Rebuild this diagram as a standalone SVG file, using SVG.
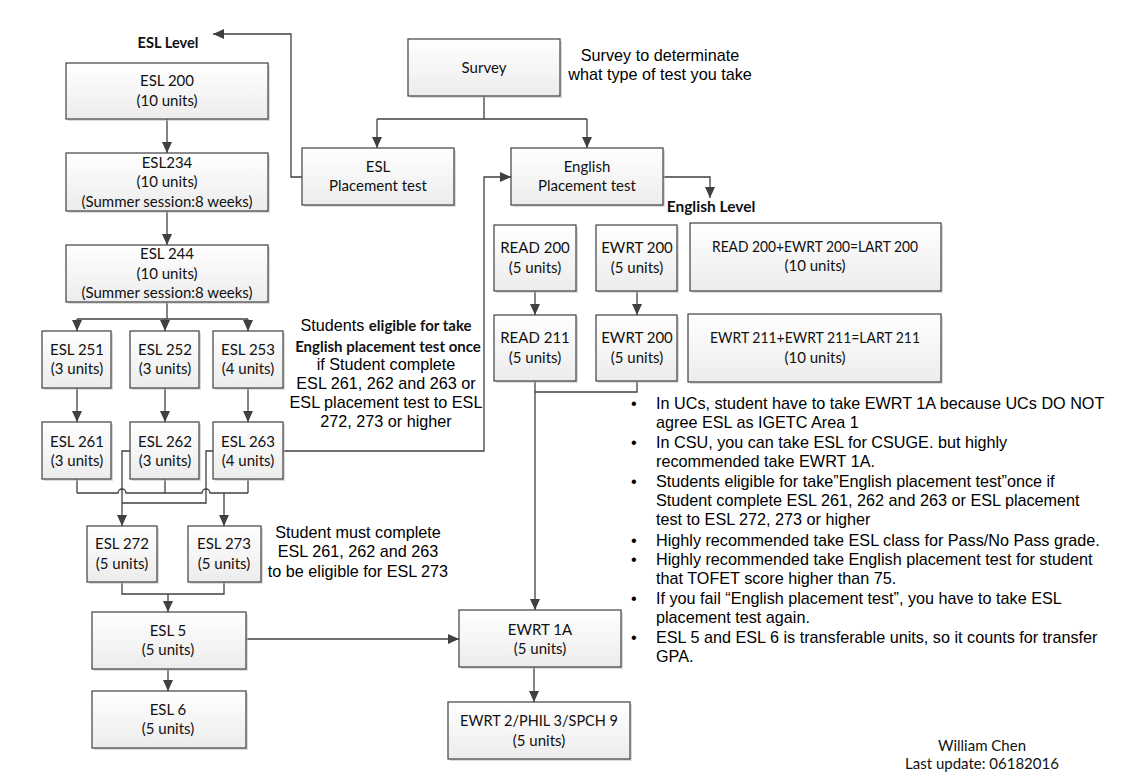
<svg xmlns="http://www.w3.org/2000/svg" width="1125" height="784" viewBox="0 0 1125 784">
<defs>
<linearGradient id="g" x1="0" y1="0" x2="0" y2="1">
<stop offset="0" stop-color="#ffffff"/>
<stop offset="1" stop-color="#ececec"/>
</linearGradient>
<marker id="ar" markerUnits="userSpaceOnUse" markerWidth="11" markerHeight="10" refX="11" refY="5" orient="auto">
<path d="M0,0 L11,5 L0,10 z" fill="#404040"/>
</marker>
<style>
.box{fill:url(#g);stroke:#404040;stroke-width:1.2}
.sh{fill:#bdbdbd;opacity:0.55}
.t{font-family:Lato,"Liberation Sans",sans-serif;font-size:15px;text-anchor:middle;fill:#111}
.b{font-family:Lato,"Liberation Sans",sans-serif;font-size:15px;font-weight:bold;fill:#111}
.a{font-family:"Liberation Sans",Arial,sans-serif;font-size:16.2px;fill:#000}
.am{font-family:"Liberation Sans",Arial,sans-serif;font-size:16.2px;fill:#000;text-anchor:middle}
.c{stroke:#404040;stroke-width:1.3;fill:none}
.e{marker-end:url(#ar)}
</style>
</defs>
<rect width="1125" height="784" fill="#ffffff"/>

<g id="connectors">
<path class="c e" d="M167,119 V153"/>
<path class="c e" d="M167,211 V245"/>
<path class="c" d="M167,302 V319 M77,319 H248"/>
<path class="c e" d="M77,319 V331"/>
<path class="c e" d="M165,319 V331"/>
<path class="c e" d="M248,319 V331"/>
<path class="c e" d="M77,388 V422"/>
<path class="c e" d="M165,388 V422"/>
<path class="c e" d="M248,388 V422"/>
<path class="c" d="M77,479 V493 M165,479 V493 M248,479 V493"/>
<path class="c" d="M77,493 H118 a4,4 0 0 1 8,0 H202 a4,4 0 0 1 8,0 H248"/>
<path class="c e" d="M224,493 V526"/>
<path class="c e" d="M130,451 H122 V526"/>
<path class="c" d="M213,451 H206 V503 H122"/>
<path class="c" d="M122,582 V594 H224 V582"/>
<path class="c e" d="M168,594 V612"/>
<path class="c e" d="M168,669 V691"/>
<path class="c e" d="M246,639 H459"/>
<path class="c e" d="M283,451 H484 V177 H511"/>
<path class="c e" d="M302,177 H291 V34 H213"/>
<path class="c" d="M484,96 V119 M377,119 H587"/>
<path class="c e" d="M377,119 V148"/>
<path class="c e" d="M587,119 V148"/>
<path class="c e" d="M663,177 H710 V198"/>
<path class="c e" d="M535,291 V315"/>
<path class="c e" d="M637,291 V315"/>
<path class="c e" d="M535,381 V610"/>
<path class="c" d="M637,381 V392 H535"/>
<path class="c e" d="M534,667 V702"/>
</g>

<g id="esl-level"><text class="b" x="168" y="48" text-anchor="middle" style="font-size:14.6px">ESL Level</text></g>

<g id="esl200">
<rect class="sh" x="68" y="65" width="202" height="56"/>
<rect class="box" x="66" y="63" width="202" height="56"/>
<text class="t" x="167" y="86">ESL 200</text>
<text class="t" x="167" y="106">(10 units)</text>
</g>
<g id="esl234">
<rect class="sh" x="68" y="155" width="202" height="58"/>
<rect class="box" x="66" y="153" width="202" height="58"/>
<text class="t" x="167" y="168">ESL234</text>
<text class="t" x="167" y="187">(10 units)</text>
<text class="t" x="167" y="207">(Summer session:8 weeks)</text>
</g>
<g id="esl244">
<rect class="sh" x="68" y="247" width="202" height="57"/>
<rect class="box" x="66" y="245" width="202" height="57"/>
<text class="t" x="167" y="259">ESL 244</text>
<text class="t" x="167" y="279">(10 units)</text>
<text class="t" x="167" y="298">(Summer session:8 weeks)</text>
</g>
<g id="esl251">
<rect class="sh" x="44" y="333" width="69" height="57"/>
<rect class="box" x="42" y="331" width="69" height="57"/>
<text class="t" x="77" y="355">ESL 251</text>
<text class="t" x="77" y="374">(3 units)</text>
</g>
<g id="esl252">
<rect class="sh" x="132" y="333" width="69" height="57"/>
<rect class="box" x="130" y="331" width="69" height="57"/>
<text class="t" x="165" y="355">ESL 252</text>
<text class="t" x="165" y="374">(3 units)</text>
</g>
<g id="esl253">
<rect class="sh" x="215" y="333" width="70" height="57"/>
<rect class="box" x="213" y="331" width="70" height="57"/>
<text class="t" x="248" y="355">ESL 253</text>
<text class="t" x="248" y="374">(4 units)</text>
</g>
<g id="esl261">
<rect class="sh" x="44" y="424" width="69" height="57"/>
<rect class="box" x="42" y="422" width="69" height="57"/>
<text class="t" x="77" y="447">ESL 261</text>
<text class="t" x="77" y="466">(3 units)</text>
</g>
<g id="esl262">
<rect class="sh" x="132" y="424" width="69" height="57"/>
<rect class="box" x="130" y="422" width="69" height="57"/>
<text class="t" x="165" y="447">ESL 262</text>
<text class="t" x="165" y="466">(3 units)</text>
</g>
<g id="esl263">
<rect class="sh" x="215" y="424" width="70" height="57"/>
<rect class="box" x="213" y="422" width="70" height="57"/>
<text class="t" x="248" y="447">ESL 263</text>
<text class="t" x="248" y="466">(4 units)</text>
</g>
<g id="esl272">
<rect class="sh" x="89" y="528" width="70" height="56"/>
<rect class="box" x="87" y="526" width="70" height="56"/>
<text class="t" x="122" y="549">ESL 272</text>
<text class="t" x="122" y="569">(5 units)</text>
</g>
<g id="esl273">
<rect class="sh" x="190" y="528" width="73" height="56"/>
<rect class="box" x="188" y="526" width="73" height="56"/>
<text class="t" x="224" y="549">ESL 273</text>
<text class="t" x="224" y="569">(5 units)</text>
</g>
<g id="esl5">
<rect class="sh" x="94" y="614" width="154" height="57"/>
<rect class="box" x="92" y="612" width="154" height="57"/>
<text class="t" x="168" y="636">ESL 5</text>
<text class="t" x="168" y="655">(5 units)</text>
</g>
<g id="esl6">
<rect class="sh" x="94" y="693" width="154" height="57"/>
<rect class="box" x="92" y="691" width="154" height="57"/>
<text class="t" x="168" y="715">ESL 6</text>
<text class="t" x="168" y="734">(5 units)</text>
</g>

<g id="survey">
<rect class="sh" x="410" y="41" width="152" height="57"/>
<rect class="box" x="408" y="39" width="152" height="57"/>
<text class="t" x="484" y="73">Survey</text>
</g>
<g id="survey-note">
<text class="am" x="660" y="61">Survey to determinate</text>
<text class="am" x="660" y="80">what type of test you take</text>
</g>
<g id="esl-placement">
<rect class="sh" x="304" y="150" width="152" height="57"/>
<rect class="box" x="302" y="148" width="152" height="57"/>
<text class="t" x="378" y="172">ESL</text>
<text class="t" x="378" y="191">Placement test</text>
</g>
<g id="english-placement">
<rect class="sh" x="513" y="150" width="152" height="57"/>
<rect class="box" x="511" y="148" width="152" height="57"/>
<text class="t" x="587" y="172">English</text>
<text class="t" x="587" y="191">Placement test</text>
</g>
<g id="english-level"><text class="b" x="711" y="212" text-anchor="middle" style="font-size:15.5px">English Level</text></g>

<g id="read200">
<rect class="sh" x="496" y="227" width="82" height="66"/>
<rect class="box" x="494" y="225" width="82" height="66"/>
<text class="t" x="535" y="253">READ 200</text>
<text class="t" x="535" y="273">(5 units)</text>
</g>
<g id="ewrt200a">
<rect class="sh" x="598" y="227" width="81" height="66"/>
<rect class="box" x="596" y="225" width="81" height="66"/>
<text class="t" x="637" y="253">EWRT 200</text>
<text class="t" x="637" y="273">(5 units)</text>
</g>
<g id="lart200">
<rect class="sh" x="692" y="225" width="251" height="68"/>
<rect class="box" x="690" y="223" width="251" height="68"/>
<text class="t" x="815" y="252" textLength="206" lengthAdjust="spacingAndGlyphs">READ 200+EWRT 200=LART 200</text>
<text class="t" x="815" y="271">(10 units)</text>
</g>
<g id="read211">
<rect class="sh" x="496" y="317" width="82" height="66"/>
<rect class="box" x="494" y="315" width="82" height="66"/>
<text class="t" x="535" y="343">READ 211</text>
<text class="t" x="535" y="363">(5 units)</text>
</g>
<g id="ewrt200b">
<rect class="sh" x="598" y="317" width="81" height="66"/>
<rect class="box" x="596" y="315" width="81" height="66"/>
<text class="t" x="637" y="343">EWRT 200</text>
<text class="t" x="637" y="363">(5 units)</text>
</g>
<g id="lart211">
<rect class="sh" x="690" y="316" width="253" height="68"/>
<rect class="box" x="688" y="314" width="253" height="68"/>
<text class="t" x="815" y="343" textLength="210" lengthAdjust="spacingAndGlyphs">EWRT 211+EWRT 211=LART 211</text>
<text class="t" x="815" y="363">(10 units)</text>
</g>
<g id="ewrt1a">
<rect class="sh" x="461" y="612" width="162" height="57"/>
<rect class="box" x="459" y="610" width="162" height="57"/>
<text class="t" x="540" y="635">EWRT 1A</text>
<text class="t" x="540" y="654">(5 units)</text>
</g>
<g id="ewrt2">
<rect class="sh" x="450" y="704" width="182" height="57"/>
<rect class="box" x="448" y="702" width="182" height="57"/>
<text class="t" x="539" y="726" textLength="158" lengthAdjust="spacingAndGlyphs">EWRT 2/PHIL 3/SPCH 9</text>
<text class="t" x="539" y="746">(5 units)</text>
</g>

<g id="note-eligible">
<text class="am" x="386" y="331"><tspan>Students </tspan><tspan class="b" style="font-size:15px">eligible for take</tspan></text>
<text class="b" x="388" y="352" text-anchor="middle">English placement test once</text>
<text class="am" x="386" y="370">if Student complete</text>
<text class="am" x="386" y="389">ESL 261, 262 and 263 or</text>
<text class="am" x="386" y="408">ESL placement test to ESL</text>
<text class="am" x="386" y="427">272, 273 or higher</text>
</g>
<g id="note-273">
<text class="am" x="358" y="538">Student must complete</text>
<text class="am" x="358" y="557">ESL 261, 262 and 263</text>
<text class="am" x="358" y="577">to be eligible for ESL 273</text>
</g>

<g id="bullets">
<text class="a" x="631" y="409">•</text>
<text class="a" x="656" y="409">In UCs, student have to take EWRT 1A because UCs DO NOT</text>
<text class="a" x="656" y="428">agree ESL as IGETC Area 1</text>
<text class="a" x="631" y="448">•</text>
<text class="a" x="656" y="448">In CSU, you can take ESL for CSUGE. but highly</text>
<text class="a" x="656" y="467">recommended take EWRT 1A.</text>
<text class="a" x="631" y="487">•</text>
<text class="a" x="656" y="487">Students eligible for take”English placement test”once if</text>
<text class="a" x="656" y="506">Student complete ESL 261, 262 and 263 or ESL placement</text>
<text class="a" x="656" y="525">test to ESL 272, 273 or higher</text>
<text class="a" x="631" y="546">•</text>
<text class="a" x="656" y="546">Highly recommended take ESL class for Pass/No Pass grade.</text>
<text class="a" x="631" y="565">•</text>
<text class="a" x="656" y="565">Highly recommended take English placement test for student</text>
<text class="a" x="656" y="584">that TOFET score higher than 75.</text>
<text class="a" x="631" y="604">•</text>
<text class="a" x="656" y="604">If you fail “English placement test”, you have to take ESL</text>
<text class="a" x="656" y="623">placement test again.</text>
<text class="a" x="631" y="643">•</text>
<text class="a" x="656" y="643">ESL 5 and ESL 6 is transferable units, so it counts for transfer</text>
<text class="a" x="656" y="662">GPA.</text>
</g>

<g id="author">
<text class="t" x="982" y="751">William Chen</text>
<text class="t" x="982" y="769">Last update: 06182016</text>
</g>
</svg>
